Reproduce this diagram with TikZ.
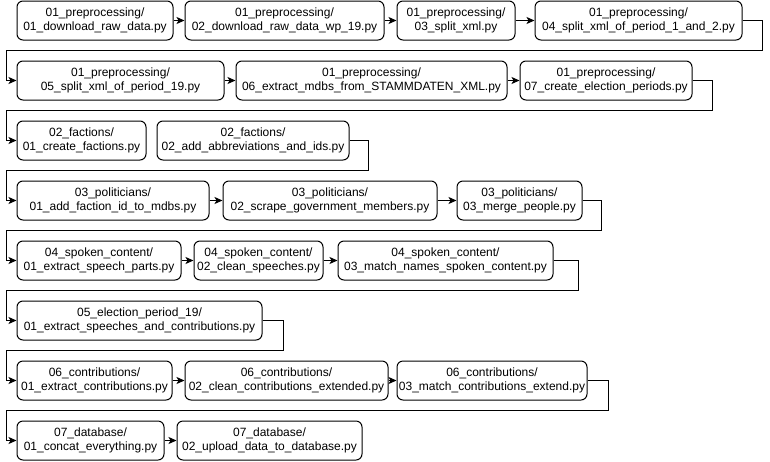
\documentclass[tikz,border=0pt]{standalone}
\usepackage{fontspec}
\setmainfont{Liberation Sans}
\usetikzlibrary{arrows.meta}
\begin{document}
\begin{tikzpicture}[x=1pt,y=-1pt,
  box/.style={draw=black, line width=1pt, rounded corners=6pt, align=center,
    inner sep=1pt, minimum height=39pt, font=\fontsize{12}{14.2}\selectfont},
  conn/.style={draw=black, line width=1pt,
    -{Stealth[length=8pt,width=7pt,inset=2pt]}}]
\useasboundingbox (0,0) rectangle (770,461);
\fill[white] (0,0) rectangle (770,461);
% row 1
\node[box, minimum width=156pt] (a1) at (95,20.5) {01\_preprocessing/\\01\_download\_raw\_data.py};
\node[box, minimum width=199pt] (a2) at (284.5,20.5) {01\_preprocessing/\\02\_download\_raw\_data\_wp\_19.py};
\node[box, minimum width=118pt] (a3) at (456,20.5) {01\_preprocessing/\\03\_split\_xml.py};
\node[box, minimum width=207pt] (a4) at (638.5,20.5) {01\_preprocessing/\\04\_split\_xml\_of\_period\_1\_and\_2.py};
% row 2
\node[box, minimum width=207pt] (a5) at (120.5,80.5) {01\_preprocessing/\\05\_split\_xml\_of\_period\_19.py};
\node[box, minimum width=271pt] (a6) at (371.5,80.5) {01\_preprocessing/\\06\_extract\_mdbs\_from\_STAMMDATEN\_XML.py};
\node[box, minimum width=172pt] (a7) at (606,80.5) {01\_preprocessing/\\07\_create\_election\_periods.py};
% row 3
\node[box, minimum width=129pt] (b1) at (81.5,140.5) {02\_factions/\\01\_create\_factions.py};
\node[box, minimum width=192pt] (b2) at (253,140.5) {02\_factions/\\02\_add\_abbreviations\_and\_ids.py};
% row 4
\node[box, minimum width=192pt] (c1) at (113,200.5) {03\_politicians/\\01\_add\_faction\_id\_to\_mdbs.py};
\node[box, minimum width=214pt] (c2) at (330,200.5) {03\_politicians/\\02\_scrape\_government\_members.py};
\node[box, minimum width=125pt] (c3) at (519.5,200.5) {03\_politicians/\\03\_merge\_people.py};
% row 5
\node[box, minimum width=164pt] (d1) at (99,260.5) {04\_spoken\_content/\\01\_extract\_speech\_parts.py};
\node[box, minimum width=129pt] (d2) at (258.5,260.5) {04\_spoken\_content/\\02\_clean\_speeches.py};
\node[box, minimum width=215pt] (d3) at (445.5,260.5) {04\_spoken\_content/\\03\_match\_names\_spoken\_content.py};
% row 6
\node[box, minimum width=245pt] (e1) at (139.5,320.5) {05\_election\_period\_19/\\01\_extract\_speeches\_and\_contributions.py};
% row 7
\node[box, minimum width=155pt] (f1) at (94.5,380.5) {06\_contributions/\\01\_extract\_contributions.py};
\node[box, minimum width=203pt] (f2) at (286.5,380.5) {06\_contributions/\\02\_clean\_contributions\_extended.py};
\node[box, minimum width=190pt] (f3) at (492,380.5) {06\_contributions/\\03\_match\_contributions\_extend.py};
% row 8
\node[box, minimum width=147pt] (g1) at (90.5,440.5) {07\_database/\\01\_concat\_everything.py};
\node[box, minimum width=185pt] (g2) at (269.5,440.5) {07\_database/\\02\_upload\_data\_to\_database.py};
% bend coordinates
\coordinate (lx) at (6,0);
\coordinate (t1) at (762,50);
\coordinate (t2) at (712,110);
\coordinate (t3) at (368,170);
\coordinate (t4) at (601,230);
\coordinate (t5) at (578,290);
\coordinate (t6) at (283,350);
\coordinate (t7) at (608,410);
% straight connectors
\draw[conn] (a1) -- (a2);
\draw[conn] (a2) -- (a3);
\draw[conn] (a3) -- (a4);
\draw[conn] (a5) -- (a6);
\draw[conn] (a6) -- (a7);
\draw[conn] (c1) -- (c2);
\draw[conn] (c2) -- (c3);
\draw[conn] (d1) -- (d2);
\draw[conn] (d2) -- (d3);
\draw[conn] (f1) -- (f2);
\draw[conn] (f2) -- (f3);
\draw[conn] (g1) -- (g2);
% row-wrapping connectors
\draw[conn] (a4.east) -| (t1) -- (t1 -| lx) |- (a5.west);
\draw[conn] (a7.east) -| (t2) -- (t2 -| lx) |- (b1.west);
\draw[conn] (b2.east) -| (t3) -- (t3 -| lx) |- (c1.west);
\draw[conn] (c3.east) -| (t4) -- (t4 -| lx) |- (d1.west);
\draw[conn] (d3.east) -| (t5) -- (t5 -| lx) |- (e1.west);
\draw[conn] (e1.east) -| (t6) -- (t6 -| lx) |- (f1.west);
\draw[conn] (f3.east) -| (t7) -- (t7 -| lx) |- (g1.west);
\end{tikzpicture}
\end{document}
